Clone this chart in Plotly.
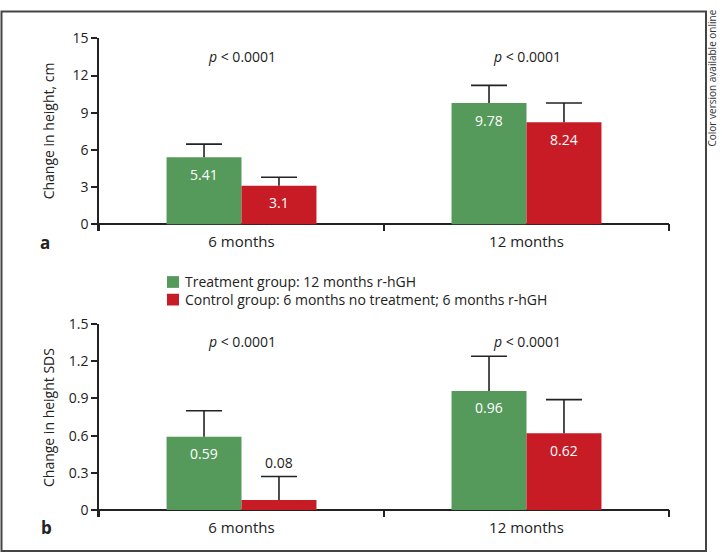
import plotly.graph_objects as go

# ---------------- data ----------------
categories = ["6 months", "12 months"]
series_names = ["Treatment group: 12 months r-hGH",
                "Control group: 6 months no treatment; 6 months r-hGH"]
cm_treat = [5.41, 9.78]
cm_treat_err = [1.06, 1.43]
cm_ctrl = [3.1, 8.24]
cm_ctrl_err = [0.69, 1.55]
sds_treat = [0.59, 0.96]
sds_treat_err = [0.21, 0.28]
sds_ctrl = [0.08, 0.62]
sds_ctrl_err = [0.19, 0.27]
p_labels = ["<i>p</i> < 0.0001", "<i>p</i> < 0.0001"]
cm_ticks = [0, 3, 6, 9, 12, 15]
cm_tick_labels = ["0", "3", "6", "9", "12", "15"]
sds_ticks = [0, 0.3, 0.6, 0.9, 1.2, 1.5]
sds_tick_labels = ["0", "0.3", "0.6", "0.9", "1.2", "1.5"]

# ---------------- style ----------------
W, H = 722, 556
GREEN = "#55995B"
RED = "#C71B26"
INK = "#222222"
FONT = "Open Sans"
BARGAP = 0.474
BW = (1 - BARGAP) / 2
X_LEFT_PX, X_RIGHT_PX = 99, 669
X_RANGE = [-0.5, 1.5]
CAP = 18 * (X_RANGE[1] - X_RANGE[0]) / (X_RIGHT_PX - X_LEFT_PX)  # half cap width in x units

def px_x(p):
    return p / W

def px_y(p):
    return 1 - p / H

def ann(**kw):
    d = dict(showarrow=False, xanchor="center", yanchor="middle")
    d.update(kw)
    return d

fig = go.Figure()
xs = list(range(len(categories)))

panels = [
    ("x", "y", [cm_treat, cm_ctrl], [cm_treat_err, cm_ctrl_err], 15),
    ("x2", "y2", [sds_treat, sds_ctrl], [sds_treat_err, sds_ctrl_err], 1.5),
]
colors = [GREEN, RED]
annotations = []
for pi, (xa, ya, vals, errs, ymax) in enumerate(panels):
    ex, ey = [], []
    for s in range(2):
        fig.add_trace(go.Bar(
            x=xs, y=vals[s], xaxis=xa, yaxis=ya,
            name=series_names[s], showlegend=False,
            marker=dict(color=colors[s], line=dict(width=0)),
            hoverinfo="skip",
        ))
        for i, v in enumerate(vals[s]):
            xpos = i + (s - 0.5) * BW
            top = v + errs[s][i]
            ex += [xpos, xpos, None, xpos - CAP, xpos + CAP, None]
            ey += [v, top, None, top, top, None]
            if v < 0.1 * ymax:
                annotations.append(ann(x=xpos, y=top, xref=xa, yref=ya,
                                       text=f"{v:g}", yshift=14,
                                       font=dict(family=FONT, size=14, color=INK)))
            else:
                annotations.append(ann(x=xpos, y=v, xref=xa, yref=ya,
                                       text=f"{v:g}", yshift=-17,
                                       font=dict(family=FONT, size=14, color="white")))
    # one-sided (upper) error bars
    fig.add_trace(go.Scatter(x=ex, y=ey, xaxis=xa, yaxis=ya, mode="lines",
                             line=dict(color=INK, width=1.6), showlegend=False,
                             hoverinfo="skip", cliponaxis=False))

# p-value labels
for i, t in enumerate(p_labels):
    annotations.append(ann(x=i, y=px_y(48), xref="x", yref="paper", text=t,
                           font=dict(family=FONT, size=14, color=INK)))
    annotations.append(ann(x=i, y=px_y(339), xref="x2", yref="paper", text=t,
                           font=dict(family=FONT, size=14, color=INK)))

# axis titles
annotations.append(ann(x=px_x(48), y=px_y(124), xref="paper", yref="paper",
                       text="Change in height, cm", textangle=-90,
                       font=dict(family=FONT, size=14, color=INK)))
annotations.append(ann(x=px_x(48), y=px_y(417), xref="paper", yref="paper",
                       text="Change in height SDS", textangle=-90,
                       font=dict(family=FONT, size=14, color=INK)))
# panel letters
annotations.append(ann(x=px_x(45), y=px_y(238), xref="paper", yref="paper",
                       text="<b>a</b>", font=dict(family=FONT, size=17, color=INK)))
annotations.append(ann(x=px_x(46), y=px_y(529), xref="paper", yref="paper",
                       text="<b>b</b>", font=dict(family=FONT, size=17, color=INK)))
# side note
annotations.append(ann(x=px_x(712), y=px_y(70), xref="paper", yref="paper",
                       text="Color version available online", textangle=-90,
                       font=dict(family=FONT, size=10, color="#333")))

# legend (manual): squares + one two-line text block
shapes = []
leg_rows = [278, 296]
for s in range(2):
    cy = leg_rows[s]
    shapes.append(dict(type="rect", xref="paper", yref="paper",
                       x0=px_x(167), x1=px_x(179), y0=px_y(cy + 6), y1=px_y(cy - 6),
                       fillcolor=colors[s], line=dict(width=0)))
annotations.append(ann(x=px_x(183), y=px_y(sum(leg_rows) / 2), xref="paper", yref="paper",
                       xanchor="left", align="left", text="<br>".join(series_names),
                       font=dict(family=FONT, size=14, color=INK)))

# frame
shapes.append(dict(type="rect", xref="paper", yref="paper",
                   x0=px_x(1.5), x1=px_x(706), y0=px_y(553), y1=px_y(1.5),
                   line=dict(color="#444", width=2)))

xdom = [px_x(X_LEFT_PX), px_x(X_RIGHT_PX)]
common_x = dict(domain=xdom, range=X_RANGE, tickvals=xs, ticktext=categories,
                ticks="", showline=False, showgrid=False, zeroline=False,
                tickfont=dict(family=FONT, size=15, color=INK),
                minor=dict(tick0=-0.5, dtick=1, ticks="inside", ticklen=7,
                           tickwidth=1.5, tickcolor=INK, showgrid=False))
common_y = dict(ticks="outside", ticklen=6, tickwidth=1.5, tickcolor=INK,
                showline=True, linecolor=INK, linewidth=1.5,
                zeroline=True, zerolinecolor=INK, zerolinewidth=1.5,
                showgrid=False, tickfont=dict(family=FONT, size=14, color=INK))

fig.update_layout(
    width=W, height=H, autosize=False,
    margin=dict(l=0, r=0, t=0, b=0),
    paper_bgcolor="white", plot_bgcolor="white",
    barmode="group", bargap=BARGAP, bargroupgap=0,
    font=dict(family=FONT, color=INK),
    xaxis=dict(anchor="y", **common_x),
    xaxis2=dict(anchor="y2", **common_x),
    yaxis=dict(anchor="x", domain=[px_y(226), px_y(29)], range=[-0.553, 15],
               tickvals=cm_ticks, ticktext=cm_tick_labels, **common_y),
    yaxis2=dict(anchor="x2", domain=[px_y(518), px_y(321)], range=[-0.0553, 1.5],
                tickvals=sds_ticks, ticktext=sds_tick_labels, **common_y),
    annotations=annotations, shapes=shapes,
    showlegend=False,
)

fig.write_html("out.html", config={"displayModeBar": False},
               post_script="document.body.style.margin='0';document.body.style.overflow='hidden';")
